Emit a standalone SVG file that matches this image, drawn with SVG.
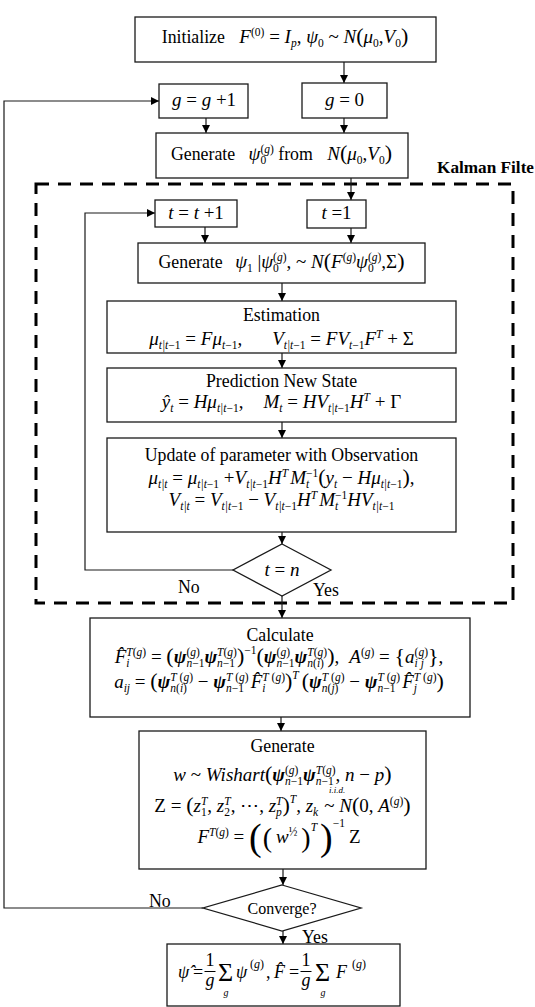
<svg xmlns="http://www.w3.org/2000/svg" width="535" height="1007" viewBox="0 0 535 1007">
<defs>
<style>
.bx{fill:#fff;stroke:#1a1a1a;stroke-width:1.3}
.cn{fill:none;stroke:#1a1a1a;stroke-width:1.2}
.kf{fill:none;stroke:#000;stroke-width:3;stroke-dasharray:13 9}
text{font-family:"Liberation Serif","Times New Roman","DejaVu Serif",serif;font-size:19px;fill:#000}
.w{font-size:17.8px}
.c{text-anchor:middle}
.i{font-style:italic}
.b{font-style:italic;font-weight:bold}
.s{font-size:11.5px}
.p{font-size:22px}
.P1{font-size:28px}
.P2{font-size:38px}
.lb{font-weight:bold;font-size:17.5px}
.cv{font-size:16px}
.sm{font-size:9px;font-style:italic}
.r{font-size:18px}
.sg{font-size:26px}
.sg2{font-size:10px;font-style:italic}
</style>
<marker id="ah" viewBox="0 0 10 10" refX="10" refY="5" markerWidth="8" markerHeight="8" orient="auto" markerUnits="userSpaceOnUse"><path d="M0,0L10,5L0,10z" fill="#000"/></marker>
</defs>
<rect width="535" height="1007" fill="#fff"/>
<g id="kalman-filter">
<rect class="kf" x="36" y="184" width="477" height="419"/>
<text class="lb" x="437" y="173" textLength="97" lengthAdjust="spacingAndGlyphs">Kalman Filte</text>
</g>
<g id="connectors">
<path class="cn" marker-end="url(#ah)" d="M344,62V83"/>
<path class="cn" marker-end="url(#ah)" d="M203,908H4V101H159"/>
<path class="cn" marker-end="url(#ah)" d="M206,118V133"/>
<path class="cn" marker-end="url(#ah)" d="M344,118V133"/>
<path class="cn" marker-end="url(#ah)" d="M351,178V200"/>
<path class="cn" marker-end="url(#ah)" d="M233,570H85V213H155"/>
<path class="cn" marker-end="url(#ah)" d="M205,227V243"/>
<path class="cn" marker-end="url(#ah)" d="M351,228V243"/>
<path class="cn" marker-end="url(#ah)" d="M282,283V301"/>
<path class="cn" marker-end="url(#ah)" d="M282,353V368"/>
<path class="cn" marker-end="url(#ah)" d="M282,422V438"/>
<path class="cn" marker-end="url(#ah)" d="M282,532V544"/>
<path class="cn" marker-end="url(#ah)" d="M282,596V618"/>
<path class="cn" marker-end="url(#ah)" d="M281,717V731"/>
<path class="cn" marker-end="url(#ah)" d="M283,869V885"/>
<path class="cn" marker-end="url(#ah)" d="M283,931V944"/>
</g>
<g id="init"><rect class="bx" x="135" y="17" width="301" height="45"/><text class="c" x="285" y="43"><tspan class="w">Initialize </tspan><tspan dx="10" class="i">F</tspan><tspan class="s" dy="-7">(0)</tspan><tspan dy="7"> = </tspan><tspan class="i">I</tspan><tspan class="s i" dy="4">p</tspan><tspan dy="-4">, </tspan><tspan class="i">ψ</tspan><tspan class="s" dy="4">0</tspan><tspan dy="-4"> ~ </tspan><tspan class="i">N</tspan><tspan class="p">(</tspan><tspan class="i">μ</tspan><tspan class="s" dy="4">0</tspan><tspan dy="-4">,</tspan><tspan class="i">V</tspan><tspan class="s" dy="4">0</tspan><tspan class="p" dy="-4">)</tspan></text></g>
<g id="g-inc"><rect class="bx" x="159" y="84" width="89" height="34"/><text class="c" x="204" y="106"><tspan class="i">g</tspan> = <tspan class="i">g</tspan> +1</text></g>
<g id="g-zero"><rect class="bx" x="302" y="83" width="85" height="35"/><text class="c" x="344.5" y="106"><tspan class="i">g</tspan> = 0</text></g>
<g id="gen-psi0"><rect class="bx" x="156" y="133" width="252" height="45"/><text class="c" x="281.5" y="160"><tspan class="w">Generate </tspan><tspan dx="9" class="i">ψ</tspan><tspan class="s" dy="4">0</tspan><tspan class="s" dx="-5.75" dy="-11">(<tspan class="i">g</tspan>)</tspan><tspan class="w" dy="7"> from </tspan><tspan dx="10" class="i">N</tspan><tspan class="p">(</tspan><tspan class="i">μ</tspan><tspan class="s" dy="4">0</tspan><tspan dy="-4">,</tspan><tspan class="i">V</tspan><tspan class="s" dy="4">0</tspan><tspan class="p" dy="-4">)</tspan></text></g>
<g id="t-inc"><rect class="bx" x="155" y="200" width="82" height="27"/><text class="c" x="196" y="219"><tspan class="i">t</tspan> = <tspan class="i">t</tspan> +1</text></g>
<g id="t-one"><rect class="bx" x="307" y="200" width="59" height="28"/><text class="c" x="336.5" y="219"><tspan class="i">t</tspan> =1</text></g>
<g id="gen-psi1"><rect class="bx" x="138" y="243" width="287" height="40"/><text class="c" x="281.5" y="268"><tspan class="w">Generate </tspan><tspan dx="8" class="i">ψ</tspan><tspan class="s" dy="4">1</tspan><tspan dy="-4"> |</tspan><tspan class="i">ψ</tspan><tspan class="s" dy="4">0</tspan><tspan class="s" dx="-5.75" dy="-11">(<tspan class="i">g</tspan>)</tspan><tspan dy="7">, ~ </tspan><tspan class="i">N</tspan><tspan class="p">(</tspan><tspan class="i">F</tspan><tspan class="s" dy="-7">(<tspan class="i">g</tspan>)</tspan><tspan class="i" dy="7">ψ</tspan><tspan class="s" dy="4">0</tspan><tspan class="s" dx="-5.75" dy="-11">(<tspan class="i">g</tspan>)</tspan><tspan dy="7">,Σ</tspan><tspan class="p">)</tspan></text></g>
<g id="estimation"><rect class="bx" x="107" y="301" width="349" height="52"/><text class="c w" x="281.5" y="321">Estimation</text><text class="c" x="281.5" y="345"><tspan class="i">μ</tspan><tspan class="s" dy="4"><tspan class="i">t|t</tspan>−1</tspan><tspan dy="-4"> = </tspan><tspan class="i">Fμ</tspan><tspan class="s" dy="4"><tspan class="i">t</tspan>−1</tspan><tspan dy="-4">,</tspan><tspan dx="30" class="i">V</tspan><tspan class="s" dy="4"><tspan class="i">t|t</tspan>−1</tspan><tspan dy="-4"> = </tspan><tspan class="i">FV</tspan><tspan class="s" dy="4"><tspan class="i">t</tspan>−1</tspan><tspan class="i" dy="-4">F</tspan><tspan class="s i" dy="-7">T</tspan><tspan dy="7"> + Σ</tspan></text></g>
<g id="prediction"><rect class="bx" x="107" y="368" width="349" height="54"/><text class="c w" x="281.5" y="387">Prediction New State</text><text class="c" x="281.5" y="408"><tspan class="i">ŷ</tspan><tspan class="s i" dy="4">t</tspan><tspan dy="-4"> = </tspan><tspan class="i">Hμ</tspan><tspan class="s" dy="4"><tspan class="i">t|t</tspan>−1</tspan><tspan dy="-4">,</tspan><tspan dx="20" class="i">M</tspan><tspan class="s i" dy="4">t</tspan><tspan dy="-4"> = </tspan><tspan class="i">HV</tspan><tspan class="s" dy="4"><tspan class="i">t|t</tspan>−1</tspan><tspan class="i" dy="-4">H</tspan><tspan class="s i" dy="-7">T</tspan><tspan dy="7"> + Γ</tspan></text></g>
<g id="update"><rect class="bx" x="107" y="438" width="349" height="94"/><text class="c w" x="281.5" y="461">Update of parameter with Observation</text><text class="c" x="281.5" y="484"><tspan class="i">μ</tspan><tspan class="s i" dy="4">t|t</tspan><tspan dy="-4"> = </tspan><tspan class="i">μ</tspan><tspan class="s" dy="4"><tspan class="i">t|t</tspan>−1</tspan><tspan dy="-4"> +</tspan><tspan class="i">V</tspan><tspan class="s" dy="4"><tspan class="i">t|t</tspan>−1</tspan><tspan class="i" dy="-4">H</tspan><tspan class="s i" dy="-7">T</tspan><tspan class="i" dy="7" dx="2">M</tspan><tspan class="s i" dy="4">t</tspan><tspan class="s" dx="-3.2" dy="-11">−1</tspan><tspan class="p" dy="7">(</tspan><tspan class="i">y</tspan><tspan class="s i" dy="4">t</tspan><tspan dy="-4"> − </tspan><tspan class="i">Hμ</tspan><tspan class="s" dy="4"><tspan class="i">t|t</tspan>−1</tspan><tspan class="p" dy="-4">)</tspan>,</text><text class="c" x="281.5" y="506"><tspan class="i">V</tspan><tspan class="s i" dy="4">t|t</tspan><tspan dy="-4"> = </tspan><tspan class="i">V</tspan><tspan class="s" dy="4"><tspan class="i">t|t</tspan>−1</tspan><tspan dy="-4"> − </tspan><tspan class="i">V</tspan><tspan class="s" dy="4"><tspan class="i">t|t</tspan>−1</tspan><tspan class="i" dy="-4">H</tspan><tspan class="s i" dy="-7">T</tspan><tspan class="i" dy="7" dx="2">M</tspan><tspan class="s i" dy="4">t</tspan><tspan class="s" dx="-3.2" dy="-11">−1</tspan><tspan class="i" dy="7">HV</tspan><tspan class="s" dy="4"><tspan class="i">t|t</tspan>−1</tspan></text></g>
<g id="t-eq-n"><polygon class="bx" points="282,544 331,570 282,596 233,570"/><text class="c" x="282" y="576"><tspan class="i">t</tspan> = <tspan class="i">n</tspan></text></g>
<g id="labels-tn"><text class="w" x="178" y="593">No</text><text class="w" x="313" y="596">Yes</text></g>
<g id="calculate"><rect class="bx" x="90" y="618" width="380" height="99"/><text class="c w" x="280" y="641">Calculate</text><text class="c" x="279" y="663"><tspan class="i">F̂</tspan><tspan class="s i" dy="4">i</tspan><tspan class="s" dx="-3.2" dy="-11"><tspan class="i">T</tspan>(<tspan class="i">g</tspan>)</tspan><tspan dy="7"> = </tspan><tspan class="p">(</tspan><tspan class="b">ψ</tspan><tspan class="s" dy="-7">(<tspan class="i">g</tspan>)</tspan><tspan class="s" dx="-13.4" dy="11"><tspan class="i">n</tspan>−1</tspan><tspan class="b" dy="-4">ψ</tspan><tspan class="s" dy="4"><tspan class="i">n</tspan>−1</tspan><tspan class="s" dx="-18" dy="-11"><tspan class="i">T</tspan>(<tspan class="i">g</tspan>)</tspan><tspan class="p" dy="7">)</tspan><tspan class="s" dy="-9">−1</tspan><tspan class="p" dy="9">(</tspan><tspan class="b">ψ</tspan><tspan class="s" dy="-7">(<tspan class="i">g</tspan>)</tspan><tspan class="s" dx="-13.4" dy="11"><tspan class="i">n</tspan>−1</tspan><tspan class="b" dy="-4">ψ</tspan><tspan class="s" dy="4"><tspan class="i">n</tspan>(<tspan class="i">i</tspan>)</tspan><tspan class="s" dx="-16.6" dy="-11"><tspan class="i">T</tspan>(<tspan class="i">g</tspan>)</tspan><tspan class="p" dy="7">)</tspan>,<tspan dx="10" class="i">A</tspan><tspan class="s" dy="-7">(<tspan class="i">g</tspan>)</tspan><tspan dy="7"> = </tspan><tspan class="p">{</tspan><tspan class="i">a</tspan><tspan class="s i" dy="4">i j</tspan><tspan class="s" dx="-9.3" dy="-11">(<tspan class="i">g</tspan>)</tspan><tspan class="p" dy="7">}</tspan>,</text><text class="c" x="279" y="688"><tspan class="i">a</tspan><tspan class="s i" dy="4">ij</tspan><tspan dy="-4"> = </tspan><tspan class="p">(</tspan><tspan class="b">ψ</tspan><tspan class="s" dy="4"><tspan class="i">n</tspan>(<tspan class="i">i</tspan>)</tspan><tspan class="s" dx="-16.6" dy="-11"><tspan class="i">T</tspan> (<tspan class="i">g</tspan>)</tspan><tspan dy="7"> − </tspan><tspan class="b">ψ</tspan><tspan class="s" dy="4"><tspan class="i">n</tspan>−1</tspan><tspan class="s" dx="-18" dy="-11"><tspan class="i">T</tspan> (<tspan class="i">g</tspan>)</tspan><tspan class="i" dy="7" dx="2">F̂</tspan><tspan class="s i" dy="4">i</tspan><tspan class="s" dx="-3.2" dy="-11"><tspan class="i">T</tspan> (<tspan class="i">g</tspan>)</tspan><tspan class="p" dy="7">)</tspan><tspan class="s i" dy="-9">T</tspan><tspan class="p" dy="9" dx="3">(</tspan><tspan class="b">ψ</tspan><tspan class="s" dy="4"><tspan class="i">n</tspan>(<tspan class="i">j</tspan>)</tspan><tspan class="s" dx="-16.6" dy="-11"><tspan class="i">T</tspan> (<tspan class="i">g</tspan>)</tspan><tspan dy="7"> − </tspan><tspan class="b">ψ</tspan><tspan class="s" dy="4"><tspan class="i">n</tspan>−1</tspan><tspan class="s" dx="-18" dy="-11"><tspan class="i">T</tspan> (<tspan class="i">g</tspan>)</tspan><tspan class="i" dy="7" dx="2">F̂</tspan><tspan class="s i" dy="4">j</tspan><tspan class="s" dx="-3.2" dy="-11"><tspan class="i">T</tspan> (<tspan class="i">g</tspan>)</tspan><tspan class="p" dy="7">)</tspan></text></g>
<g id="generate-w"><rect class="bx" x="139" y="731" width="287" height="138"/><text class="c w" x="282.5" y="752">Generate</text><text class="c" x="282.5" y="781"><tspan class="i">w</tspan> ~ <tspan class="i">Wishart</tspan><tspan class="p">(</tspan><tspan class="b">ψ</tspan><tspan class="s" dy="-7">(<tspan class="i">g</tspan>)</tspan><tspan class="s" dx="-13.4" dy="11"><tspan class="i">n</tspan>−1</tspan><tspan class="b" dy="-4">ψ</tspan><tspan class="s" dy="4"><tspan class="i">n</tspan>−1</tspan><tspan class="s" dx="-18" dy="-11"><tspan class="i">T</tspan>(<tspan class="i">g</tspan>)</tspan><tspan dy="7">, </tspan><tspan class="i">n</tspan> − <tspan class="i">p</tspan><tspan class="p">)</tspan></text><text class="sm" x="329" y="793">i.i.d.</text><text class="c" x="282.5" y="812">Z = <tspan class="p">(</tspan><tspan class="i">z</tspan><tspan class="s" dy="4">1</tspan><tspan class="s i" dx="-5.75" dy="-11">T</tspan><tspan dy="7">, </tspan><tspan class="i">z</tspan><tspan class="s" dy="4">2</tspan><tspan class="s i" dx="-5.75" dy="-11">T</tspan><tspan dy="7">, ⋯, </tspan><tspan class="i">z</tspan><tspan class="s i" dy="4">p</tspan><tspan class="s i" dx="-5.75" dy="-11">T</tspan><tspan class="p" dy="7">)</tspan><tspan class="s i" dy="-9">T</tspan><tspan dy="9">, </tspan><tspan class="i">z</tspan><tspan class="s i" dy="4">k</tspan><tspan dy="-4" dx="6">~ </tspan><tspan class="i">N</tspan><tspan class="p">(</tspan>0, <tspan class="i">A</tspan><tspan class="s" dy="-7">(<tspan class="i">g</tspan>)</tspan><tspan class="p" dy="7">)</tspan></text><text class="c" x="279" y="843"><tspan class="i">F</tspan><tspan class="s" dy="-7"><tspan class="i">T</tspan>(<tspan class="i">g</tspan>)</tspan><tspan dy="7"> = </tspan><tspan class="P2" dy="7">(</tspan><tspan class="P1" dy="-3" dx="1">(</tspan><tspan dy="-4" dx="4" class="i">w</tspan><tspan class="s" dy="-7">½</tspan><tspan class="P1" dy="11" dx="4">)</tspan><tspan class="s i" dy="-16">T</tspan><tspan class="P2" dy="19" dx="3">)</tspan><tspan class="s" dy="-23">−1</tspan><tspan dy="16" dx="4">Z</tspan></text></g>
<g id="converge"><polygon class="bx" points="282,885 361,908 282,931 203,908"/><text class="c cv" x="282" y="914">Converge?</text></g>
<g id="labels-conv"><text class="w" x="149" y="907">No</text><text class="w" x="302" y="943">Yes</text></g>
<g id="result"><rect class="bx" x="167" y="944" width="233" height="62"/>
<text class="i r" x="178" y="978">ψ̂</text><text class="r" x="193" y="978">=</text>
<text class="c r" x="210" y="966">1</text><line x1="204.5" y1="971.5" x2="215.5" y2="971.5" stroke="#000" stroke-width="1"/><text class="c i r" x="210" y="986">g</text>
<text class="sg" x="218" y="981">Σ</text><text class="c sg2" x="226" y="996">g</text>
<text class="i r" x="236" y="978">ψ</text><text x="250" y="968" style="font-size:12px">(<tspan class="i">g</tspan>)</text>
<text class="r" x="266" y="978">,</text>
<text class="i r" x="274" y="978">F̂</text><text class="r" x="289" y="978">=</text>
<text class="c r" x="306" y="966">1</text><line x1="300.5" y1="971.5" x2="311.5" y2="971.5" stroke="#000" stroke-width="1"/><text class="c i r" x="306" y="986">g</text>
<text class="sg" x="315" y="981">Σ</text><text class="c sg2" x="323" y="996">g</text>
<text class="i r" x="336" y="978">F</text><text x="352" y="968" style="font-size:12px">(<tspan class="i">g</tspan>)</text>
</g>
</svg>
